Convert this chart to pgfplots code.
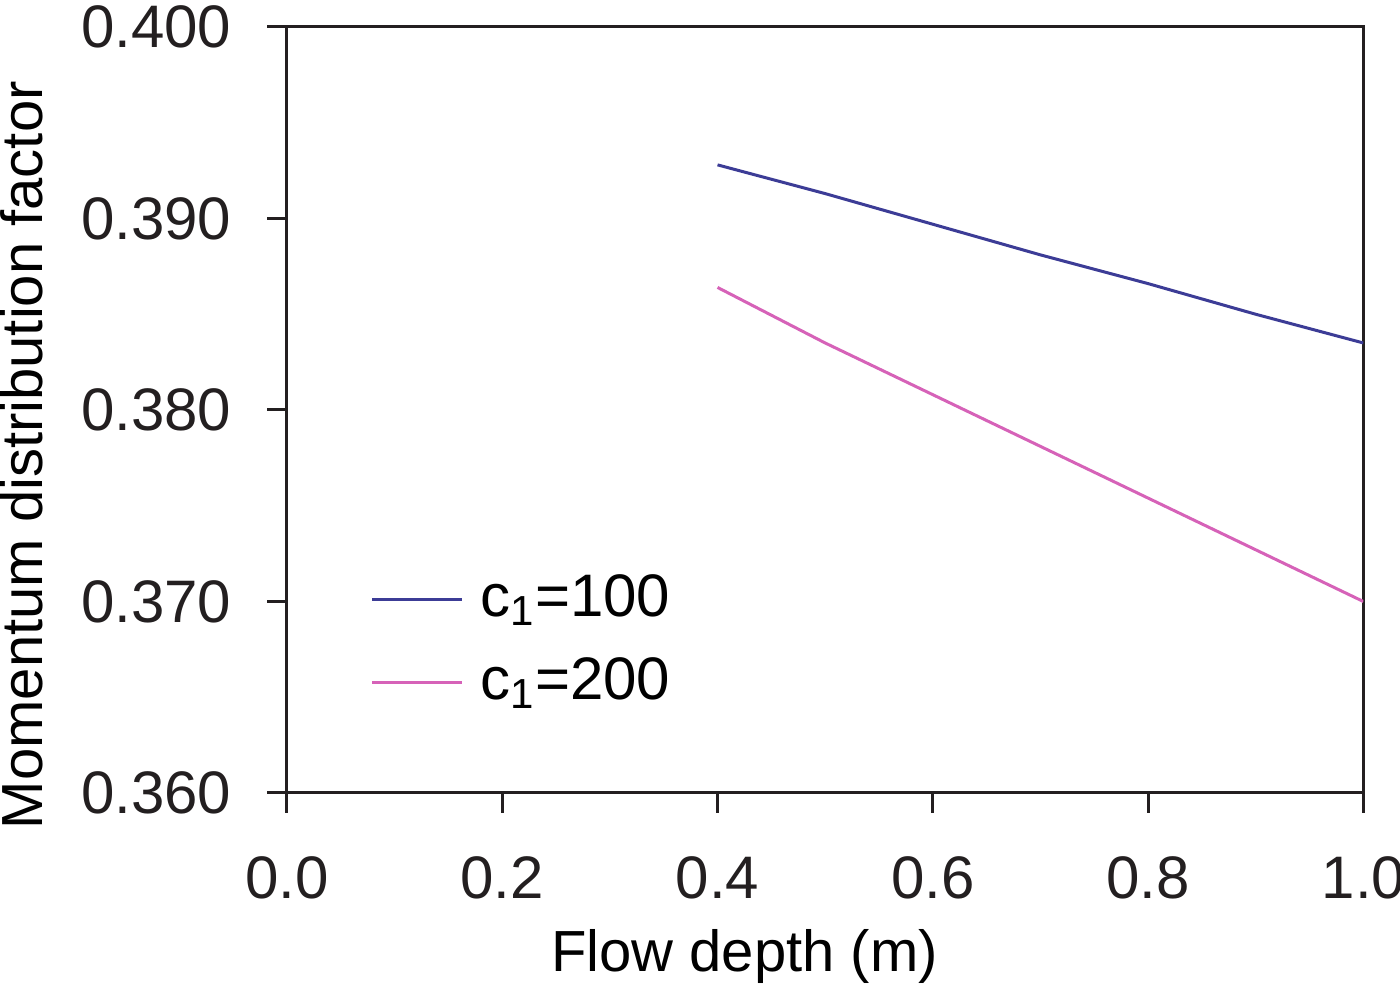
\documentclass[border=0pt]{standalone}
\usepackage{fontspec}
\setmainfont{Liberation Sans}
\usepackage{pgfplots}
\pgfplotsset{compat=1.18}
\definecolor{c100}{HTML}{3C3C96}
\definecolor{c200}{HTML}{D662B8}
\definecolor{axc}{HTML}{231F20}
\begin{document}
\fontsize{18}{21.6}\selectfont
\begin{tikzpicture}
\begin{axis}[
  at={(0,0)}, anchor=south west, scale only axis,
  width=322.9pt, height=229.8pt,
  xmin=0, xmax=1, ymin=0.36, ymax=0.40,
  xtick={0,0.2,0.4,0.6,0.8,1},
  xticklabels={0.0,0.2,0.4,0.6,0.8,1.0},
  ytick={0.36,0.37,0.38,0.39,0.40},
  yticklabels={0.360,0.370,0.380,0.390,0.400},
  xtick pos=bottom, ytick pos=left,
  tick align=outside, major tick length=6pt,
  tick style={axc, line width=0.9pt},
  axis line style={axc, line width=0.9pt},
  ticklabel style={font=\fontsize{18}{21.6}\selectfont, text=axc},
  xticklabel style={yshift=-7pt},
  yticklabel style={xshift=-4.5pt},
  xlabel={Flow depth (m)},
  ylabel={Momentum distribution factor},
  label style={font=\fontsize{17.4}{21}\selectfont, text=black},
  xlabel style={at={(axis description cs:0.425,-0.214)}, anchor=center},
  ylabel style={at={(axis description cs:-0.246,0.441)}, anchor=center},
  legend style={draw=none, fill=none, at={(axis description cs:0.077,0.198)}, anchor=west,
    inner sep=0pt, font=\fontsize{18}{21.6}\selectfont, row sep=5.7pt,
    nodes={inner sep=2pt},
    /tikz/every odd column/.append style={column sep=3pt}},
  legend cell align=left,
  legend image code/.code={\draw[#1] (0pt,0pt) -- (27pt,0pt);},
]
\addplot[c100, line width=0.9pt] coordinates {
(0.40,0.3928) (0.50,0.3913) (0.60,0.3897) (0.70,0.3881) (0.80,0.3866) (0.90,0.3850) (1.00,0.3835)};
\addlegendentry{c\textsubscript{1}=100}
\addplot[c200, line width=0.9pt] coordinates {
(0.40,0.3864) (0.50,0.3835) (0.60,0.3808) (0.70,0.3781) (0.80,0.3754) (0.90,0.3727) (1.00,0.3700)};
\addlegendentry{c\textsubscript{1}=200}
\end{axis}
\pgfresetboundingbox
\useasboundingbox (-86.1pt,-58.5pt) rectangle (333.9pt,237.9pt);
\end{tikzpicture}
\end{document}
